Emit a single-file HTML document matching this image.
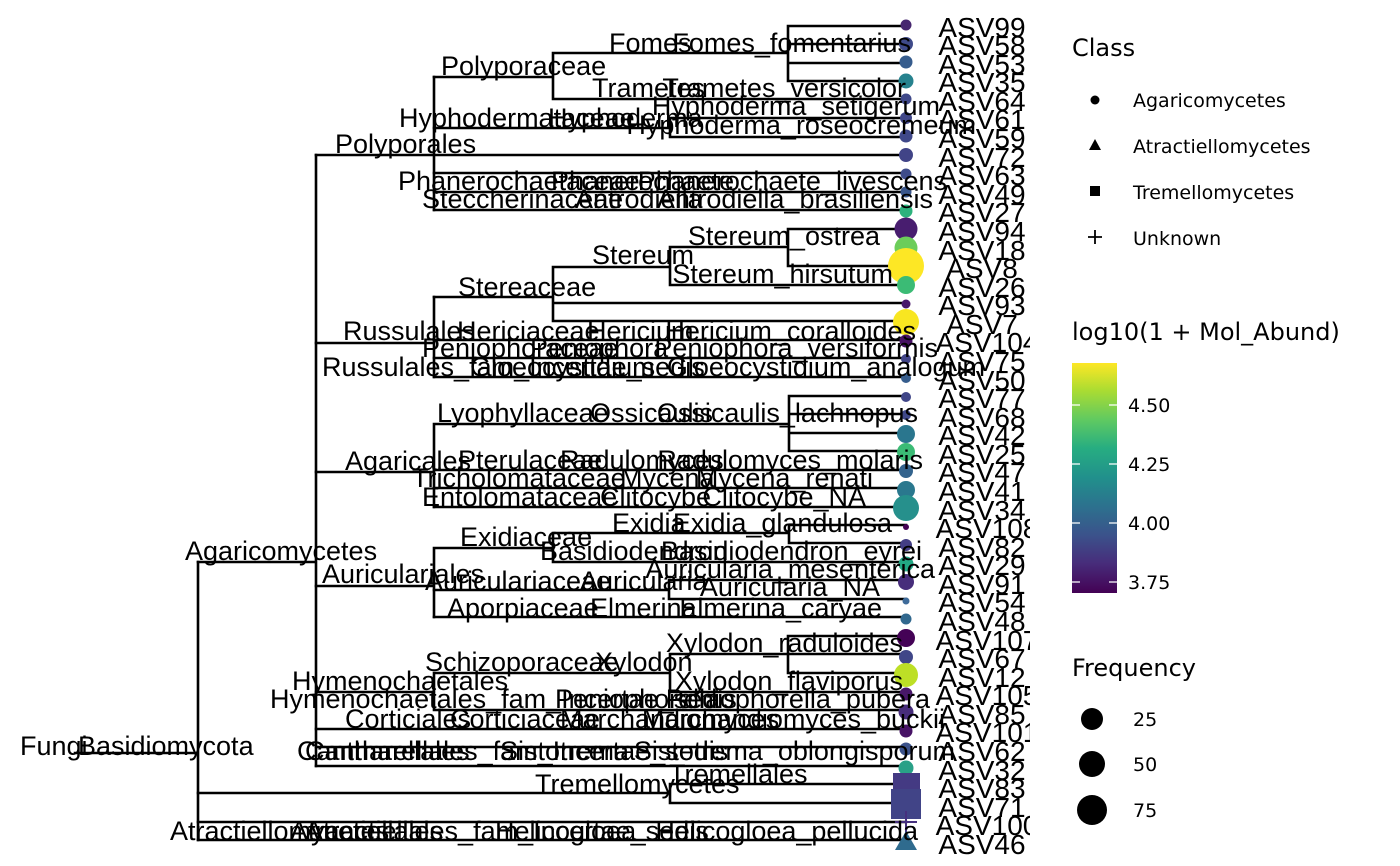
<!DOCTYPE html>
<html><head><meta charset="utf-8"><style>
html,body{margin:0;padding:0;background:#fff;}
svg{display:block;}
text{font-family:"Liberation Sans","DejaVu Sans",sans-serif;fill:#000;}
.t{font-size:27px;}
.a{font-size:28px;}
.lg{font-size:19px;font-family:"DejaVu Sans","Liberation Sans",sans-serif;}
.lt{font-size:24px;font-family:"DejaVu Sans","Liberation Sans",sans-serif;}
</style></head><body>
<svg width="1400" height="866" viewBox="0 0 1400 866" xmlns="http://www.w3.org/2000/svg">
<defs>
<clipPath id="c"><rect x="0" y="0" width="1030" height="866"/></clipPath>
<linearGradient id="vir" x1="0" y1="1" x2="0" y2="0">
<stop offset="0" stop-color="#440154"/><stop offset="0.13" stop-color="#472d7b"/>
<stop offset="0.25" stop-color="#3b528b"/><stop offset="0.38" stop-color="#2c728e"/>
<stop offset="0.5" stop-color="#21908c"/><stop offset="0.63" stop-color="#27ad81"/>
<stop offset="0.75" stop-color="#5ec962"/><stop offset="0.88" stop-color="#aadc32"/>
<stop offset="1" stop-color="#fde725"/>
</linearGradient>
</defs>
<g stroke="#000" stroke-width="2.6" fill="none" stroke-linecap="square">
<path d="M75 753H198M198 562V840"/>
<path d="M198 562H316M316 155V766"/>
<path d="M316 155H906M434 77V210"/>
<path d="M434 77H553M553 53V99M553 53H788M788 26V81M788 26H906M788 44H906M788 63H906M788 81H906M553 99H906"/>
<path d="M434 128H670M670 118V137M670 118H906M670 137H906"/>
<path d="M434 173H906M434 192H906M434 210H906"/>
<path d="M316 343H434M434 297V377"/>
<path d="M434 297H553M553 267V321M553 267H670M670 247V285M670 247H788M788 229V266M788 229H906M788 266H906M670 285H906M553 303H906M553 321H906"/>
<path d="M434 340H906M434 358H906M434 377H906"/>
<path d="M316 472H434M434 424V507M434 424H789M789 396V451M789 396H906M789 414H906M789 433H906M789 451H906"/>
<path d="M434 470H906M434 488H906M434 507H906"/>
<path d="M316 586H434M434 548V617M434 548H553M553 533V562M553 533H789M789 525V543M789 525H906M789 543H906M553 562H906"/>
<path d="M434 590H669M669 580V599M669 580H906M669 599H906M434 617H906"/>
<path d="M316 692H434M434 673V710M434 673H670M670 654V692M670 654H906M788 636V673M788 636H906M788 673H906M670 692H906M434 710H906"/>
<path d="M316 729H906M316 747H906M316 766H906"/>
<path d="M198 793H670M670 784V803M670 784H906M670 803H906"/>
<path d="M198 822H906M198 840H906"/>
</g>
<g>
<circle cx="906" cy="25" r="5.5" fill="#46266f"/>
<circle cx="906" cy="44" r="7" fill="#3e4a89"/>
<circle cx="906" cy="62" r="6.5" fill="#365c8d"/>
<circle cx="906" cy="81" r="7.5" fill="#26828e"/>
<circle cx="906" cy="99" r="5.5" fill="#3f4889"/>
<circle cx="906" cy="118" r="6" fill="#404688"/>
<circle cx="906" cy="136" r="6.5" fill="#3f4889"/>
<circle cx="906" cy="155" r="7" fill="#414487"/>
<circle cx="906" cy="174" r="5.5" fill="#3e4c8a"/>
<circle cx="906" cy="192" r="5.5" fill="#39568c"/>
<circle cx="906" cy="211" r="6.5" fill="#2db27d"/>
<circle cx="906" cy="229" r="11.5" fill="#481d6f"/>
<circle cx="906" cy="248" r="11.5" fill="#6ccd5a"/>
<circle cx="906" cy="266" r="18" fill="#fde725"/>
<circle cx="906" cy="285" r="9" fill="#3bbb75"/>
<circle cx="906" cy="304" r="4.5" fill="#48186a"/>
<circle cx="906" cy="322" r="13" fill="#f8e621"/>
<circle cx="906" cy="341" r="6.5" fill="#471063"/>
<circle cx="906" cy="359" r="5" fill="#414487"/>
<circle cx="906" cy="378" r="5" fill="#365d8d"/>
<circle cx="906" cy="397" r="5" fill="#404688"/>
<circle cx="906" cy="415" r="5" fill="#3f4889"/>
<circle cx="906" cy="434" r="9" fill="#2a768e"/>
<circle cx="906" cy="452" r="9" fill="#3bbb75"/>
<circle cx="906" cy="471" r="7" fill="#33638d"/>
<circle cx="906" cy="490" r="9" fill="#2a788e"/>
<circle cx="906" cy="508" r="13" fill="#26908c"/>
<circle cx="906" cy="527" r="3" fill="#440154"/>
<circle cx="906" cy="545" r="6" fill="#433e85"/>
<circle cx="906" cy="564" r="7.5" fill="#22a884"/>
<circle cx="906" cy="582" r="8" fill="#472d7b"/>
<circle cx="906" cy="601" r="3.5" fill="#3e6b9a"/>
<circle cx="906" cy="619" r="5.5" fill="#31688e"/>
<circle cx="906" cy="638" r="9" fill="#440256"/>
<circle cx="906" cy="657" r="7" fill="#404688"/>
<circle cx="906" cy="675" r="12" fill="#bddf26"/>
<circle cx="906" cy="694" r="6.5" fill="#481769"/>
<circle cx="906" cy="712" r="7.5" fill="#472d7b"/>
<circle cx="906" cy="731" r="6.5" fill="#471365"/>
<circle cx="906" cy="749" r="6.5" fill="#3b528b"/>
<circle cx="906" cy="768" r="7.5" fill="#29a087"/>
<rect x="893" y="773" width="27" height="27" fill="#443a83"/>
<rect x="891" y="789" width="30" height="30" fill="#414487"/>
<path d="M906 811V833M895 822H917" stroke="#46307e" stroke-width="2"/>
<polygon points="906,831 917,850 895,850" fill="#2f6b8e"/>
</g>
<g class="a" text-anchor="middle" clip-path="url(#c)">
<text x="982" y="37">ASV99</text><text x="982" y="55">ASV58</text><text x="982" y="74">ASV53</text>
<text x="982" y="92">ASV35</text><text x="982" y="111">ASV64</text><text x="982" y="129">ASV61</text>
<text x="982" y="148">ASV59</text><text x="982" y="167">ASV72</text><text x="982" y="185">ASV63</text>
<text x="982" y="204">ASV49</text><text x="982" y="222">ASV27</text><text x="982" y="241">ASV94</text>
<text x="982" y="260">ASV18</text><text x="982" y="278">ASV8</text><text x="982" y="297">ASV26</text>
<text x="982" y="315">ASV93</text><text x="982" y="334">ASV7</text><text x="987" y="352">ASV104</text>
<text x="982" y="371">ASV75</text><text x="982" y="390">ASV50</text><text x="982" y="408">ASV77</text>
<text x="982" y="427">ASV68</text><text x="982" y="445">ASV42</text><text x="982" y="464">ASV25</text>
<text x="982" y="482">ASV47</text><text x="982" y="501">ASV41</text><text x="982" y="520">ASV34</text>
<text x="987" y="538">ASV108</text><text x="982" y="557">ASV82</text><text x="982" y="575">ASV29</text>
<text x="982" y="594">ASV91</text><text x="982" y="612">ASV54</text><text x="982" y="631">ASV48</text>
<text x="987" y="650">ASV107</text><text x="982" y="668">ASV67</text><text x="982" y="687">ASV12</text>
<text x="987" y="705">ASV105</text><text x="982" y="724">ASV85</text><text x="987" y="742">ASV101</text>
<text x="982" y="761">ASV62</text><text x="982" y="780">ASV32</text><text x="982" y="798">ASV83</text>
<text x="982" y="817">ASV71</text><text x="987" y="835">ASV100</text><text x="982" y="854">ASV46</text>
</g>
<g class="t">
<text x="20" y="755">Fungi</text>
<text x="78" y="755">Basidiomycota</text>
<text x="185" y="560">Agaricomycetes</text>
<text x="335" y="153">Polyporales</text>
<text x="441" y="75">Polyporaceae</text>
<text x="609" y="52">Fomes</text>
<text x="592" y="97">Trametes</text>
<text x="399" y="127">Hyphodermataceae</text>
<text x="548" y="127">Hyphoderma</text>
<text x="398" y="190">Phanerochaetaceae</text>
<text x="551" y="190">Phanerochaete</text>
<text x="422" y="208">Steccherinaceae</text>
<text x="575" y="208">Antrodiella</text>
<text x="592" y="264">Stereum</text>
<text x="458" y="296">Stereaceae</text>
<text x="343" y="340">Russulales</text>
<text x="457" y="340">Hericiaceae</text>
<text x="587" y="340">Hericium</text>
<text x="422" y="357">Peniophoraceae</text>
<text x="530" y="357">Peniophora</text>
<text x="322" y="376">Russulales_fam_Incertae_sedis</text>
<text x="470" y="376">Gloeocystidium</text>
<text x="437" y="422">Lyophyllaceae</text>
<text x="590" y="422">Ossicaulis</text>
<text x="345" y="470">Agaricales</text>
<text x="458" y="469">Pterulaceae</text>
<text x="560" y="469">Radulomyces</text>
<text x="412" y="487">Tricholomataceae</text>
<text x="620" y="487">Mycena</text>
<text x="422" y="506">Entolomataceae</text>
<text x="600" y="506">Clitocybe</text>
<text x="612" y="532">Exidia</text>
<text x="460" y="546">Exidiaceae</text>
<text x="540" y="560">Basidiodendron</text>
<text x="322" y="583">Auriculariales</text>
<text x="425" y="590">Auriculariaceae</text>
<text x="580" y="590">Auricularia</text>
<text x="447" y="617">Aporpiaceae</text>
<text x="590" y="617">Elmerina</text>
<text x="425" y="671">Schizoporaceae</text>
<text x="595" y="671">Xylodon</text>
<text x="292" y="690">Hymenochaetales</text>
<text x="270" y="708">Hymenochaetales_fam_Incertae_sedis</text>
<text x="555" y="708">Peniophorella</text>
<text x="345" y="728">Corticiales</text>
<text x="450" y="728">Corticiaceae</text>
<text x="560" y="728">Marchandiomyces</text>
<text x="297" y="760">Cantharellales</text>
<text x="305" y="760">Cantharellales_fam_Incertae_sedis</text>
<text x="500" y="760">Sistotrema</text>
<text x="669" y="783">Tremellales</text>
<text x="535" y="793">Tremellomycetes</text>
<text x="170" y="840">Atractiellomycetes</text>
<text x="290" y="840">Atractiellales</text>
<text x="305" y="840">Atractiellales_fam_Incertae_sedis</text>
<text x="495" y="840">Helicogloea</text>
</g>
<g class="t" text-anchor="end">
<text x="911" y="52">Fomes_fomentarius</text>
<text x="906" y="97">Trametes_versicolor</text>
<text x="940" y="115">Hyphoderma_setigerum</text>
<text x="976" y="134">Hyphoderma_roseocremeum</text>
<text x="947" y="190">Phanerochaete_livescens</text>
<text x="933" y="208">Antrodiella_brasiliensis</text>
<text x="880" y="245">Stereum_ostrea</text>
<text x="893" y="283">Stereum_hirsutum</text>
<text x="916" y="340">Hericium_coralloides</text>
<text x="938" y="357">Peniophora_versiformis</text>
<text x="985" y="376">Gloeocystidium_analogum</text>
<text x="918" y="422">Ossicaulis_lachnopus</text>
<text x="923" y="469">Radulomyces_molaris</text>
<text x="873" y="487">Mycena_renati</text>
<text x="866" y="506">Clitocybe_NA</text>
<text x="892" y="532">Exidia_glandulosa</text>
<text x="922" y="560">Basidiodendron_eyrei</text>
<text x="935" y="578">Auricularia_mesenterica</text>
<text x="880" y="596">Auricularia_NA</text>
<text x="882" y="617">Elmerina_caryae</text>
<text x="903" y="652">Xylodon_raduloides</text>
<text x="903" y="690">Xylodon_flaviporus</text>
<text x="930" y="708">Peniophorella_pubera</text>
<text x="945" y="728">Marchandiomyces_buckii</text>
<text x="955" y="760">Sistotrema_oblongisporum</text>
<text x="918" y="840">Helicogloea_pellucida</text>
</g>
<g>
<text class="lt" x="1072" y="56">Class</text>
<circle cx="1095" cy="100" r="4.5" fill="#000"/>
<text class="lg" x="1133" y="107">Agaricomycetes</text>
<polygon points="1095,139 1101,150 1089,150" fill="#000"/>
<text class="lg" x="1133" y="153">Atractiellomycetes</text>
<rect x="1090" y="186" width="10" height="10" fill="#000"/>
<text class="lg" x="1133" y="199">Tremellomycetes</text>
<path d="M1095 230V244M1088 237H1102" stroke="#000" stroke-width="1.8"/>
<text class="lg" x="1133" y="245">Unknown</text>
<text class="lt" x="1072" y="340">log10(1 + Mol_Abund)</text>
<rect x="1072" y="363" width="45" height="230" fill="url(#vir)"/>
<g stroke="#fff" stroke-width="1.2">
<path d="M1072 405h8M1109 405h8M1072 464h8M1109 464h8M1072 523h8M1109 523h8M1072 582h8M1109 582h8"/>
</g>
<text class="lg" x="1128" y="412">4.50</text>
<text class="lg" x="1128" y="471">4.25</text>
<text class="lg" x="1128" y="530">4.00</text>
<text class="lg" x="1128" y="589">3.75</text>
<text class="lt" x="1072" y="676">Frequency</text>
<circle cx="1092" cy="719" r="11" fill="#000"/>
<text class="lg" x="1133" y="726">25</text>
<circle cx="1092" cy="764" r="13" fill="#000"/>
<text class="lg" x="1133" y="771">50</text>
<circle cx="1092" cy="810" r="15" fill="#000"/>
<text class="lg" x="1133" y="817">75</text>
</g>
</svg>
</body></html>
